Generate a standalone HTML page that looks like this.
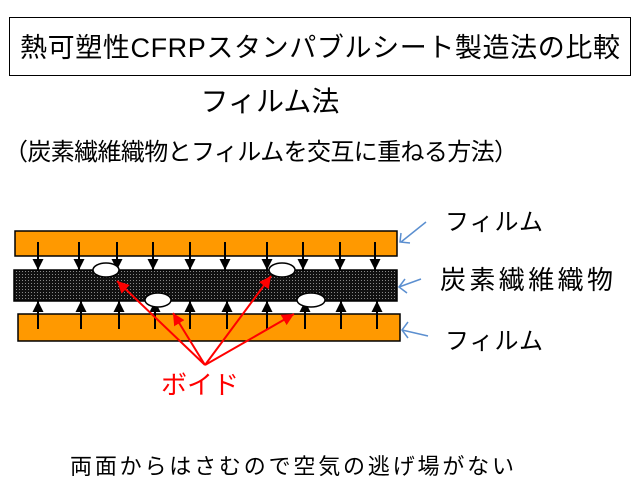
<!DOCTYPE html>
<html><head><meta charset="utf-8"><style>
body{margin:0;background:#fff;width:640px;height:494px;overflow:hidden}
svg{display:block}
text{font-family:"Liberation Sans","Noto Sans CJK JP",sans-serif}
</style></head><body>
<svg width="640" height="494" viewBox="0 0 640 494">
<defs>
<pattern id="dots" width="3" height="3" patternUnits="userSpaceOnUse">
<rect width="3" height="3" fill="#111"/><rect x="1" y="1" width="1" height="1" fill="#888"/>
</pattern>
<marker id="ab" viewBox="0 0 10 10" refX="10" refY="5" markerWidth="5.5" markerHeight="5.5" orient="auto"><path d="M0,0L10,5L0,10z" fill="#000"/></marker>
<marker id="ar" viewBox="0 0 10 10" refX="10" refY="5" markerWidth="6" markerHeight="6" orient="auto"><path d="M0,0L10,5L0,10z" fill="#f00"/></marker>
</defs>
<rect x="9.5" y="17.5" width="621" height="58" fill="#fff" stroke="#000" stroke-width="1"/>
<text x="320" y="57" font-size="27" text-anchor="middle" textLength="600">熱可塑性CFRPスタンパブルシート製造法の比較</text>
<text x="270" y="111" font-size="28" text-anchor="middle">フィルム法</text>
<text x="4" y="160" font-size="24" textLength="514">（炭素繊維織物とフィルムを交互に重ねる方法）</text>

<rect x="15" y="231" width="382" height="25" fill="#f90" stroke="#000" stroke-width="1.5"/>
<rect x="14" y="270" width="383" height="31" fill="url(#dots)" stroke="#000" stroke-width="1.5"/>
<rect x="18" y="314" width="382" height="27" fill="#f90" stroke="#000" stroke-width="1.5"/>

<g stroke="#000" stroke-width="2">
<line x1="38" y1="242" x2="38" y2="270" marker-end="url(#ab)"/>
<line x1="79" y1="242" x2="79" y2="270" marker-end="url(#ab)"/>
<line x1="117" y1="242" x2="117" y2="270" marker-end="url(#ab)"/>
<line x1="153" y1="242" x2="153" y2="270" marker-end="url(#ab)"/>
<line x1="190" y1="242" x2="190" y2="270" marker-end="url(#ab)"/>
<line x1="225" y1="242" x2="225" y2="270" marker-end="url(#ab)"/>
<line x1="267" y1="242" x2="267" y2="270" marker-end="url(#ab)"/>
<line x1="303" y1="242" x2="303" y2="270" marker-end="url(#ab)"/>
<line x1="340" y1="242" x2="340" y2="270" marker-end="url(#ab)"/>
<line x1="375" y1="242" x2="375" y2="270" marker-end="url(#ab)"/>
<line x1="38" y1="329" x2="38" y2="301" marker-end="url(#ab)"/>
<line x1="81" y1="329" x2="81" y2="301" marker-end="url(#ab)"/>
<line x1="119" y1="329" x2="119" y2="301" marker-end="url(#ab)"/>
<line x1="155" y1="329" x2="155" y2="301" marker-end="url(#ab)"/>
<line x1="190" y1="329" x2="190" y2="301" marker-end="url(#ab)"/>
<line x1="227" y1="329" x2="227" y2="301" marker-end="url(#ab)"/>
<line x1="267" y1="329" x2="267" y2="301" marker-end="url(#ab)"/>
<line x1="305" y1="329" x2="305" y2="301" marker-end="url(#ab)"/>
<line x1="341" y1="329" x2="341" y2="301" marker-end="url(#ab)"/>
<line x1="377" y1="329" x2="377" y2="301" marker-end="url(#ab)"/>
</g>
<g fill="#fff" stroke="#000" stroke-width="1.5">
<ellipse cx="106" cy="270" rx="13" ry="7"/>
<ellipse cx="158" cy="300" rx="13" ry="7"/>
<ellipse cx="282" cy="270" rx="13" ry="7"/>
<ellipse cx="311" cy="300" rx="14" ry="7"/>
</g>
<g stroke="#f00" stroke-width="2">
<line x1="205" y1="365" x2="117" y2="281" marker-end="url(#ar)"/>
<line x1="205" y1="365" x2="173" y2="313" marker-end="url(#ar)"/>
<line x1="205" y1="365" x2="271" y2="276" marker-end="url(#ar)"/>
<line x1="205" y1="365" x2="294" y2="314" marker-end="url(#ar)"/>
</g>
<text x="161" y="394" font-size="26" fill="#f00">ボイド</text>

<g stroke="#5b8fd0" stroke-width="1.5" fill="none">
<line x1="426" y1="222" x2="401" y2="242"/><path d="M401,233L400,242L410,243"/>
<line x1="421" y1="279" x2="399" y2="287"/><path d="M405,279L399,287L407,293"/>
<line x1="428" y1="336" x2="402" y2="330"/><path d="M408,322L402,330L408,338"/>
</g>
<text x="445" y="230" font-size="24" textLength="98">フィルム</text>
<text x="440" y="289" font-size="26" textLength="173">炭素繊維織物</text>
<text x="445" y="349" font-size="24" textLength="98">フィルム</text>

<text x="70" y="474" font-size="22" textLength="444">両面からはさむので空気の逃げ場がない</text>
</svg>
</body></html>
